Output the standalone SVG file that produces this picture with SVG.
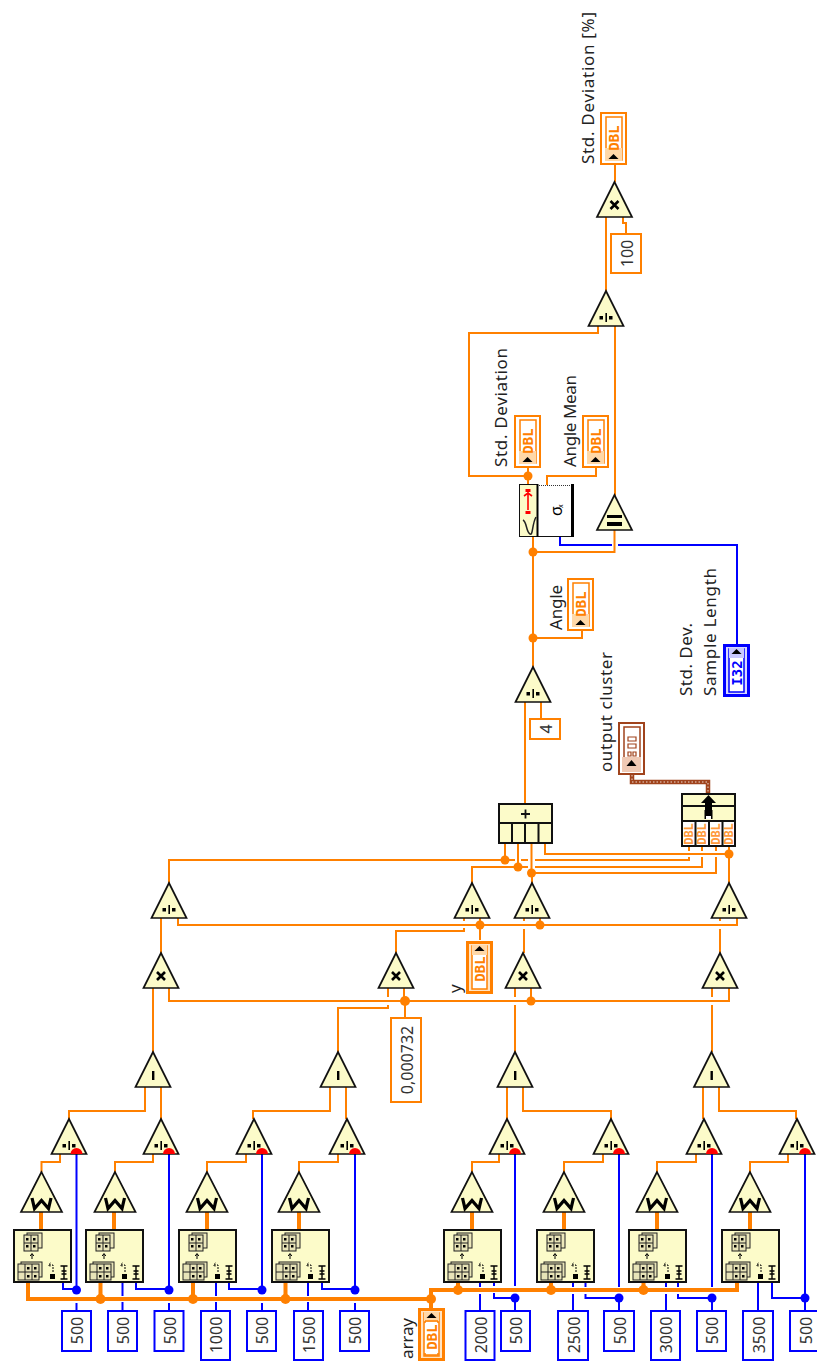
<svg xmlns="http://www.w3.org/2000/svg" width="817" height="1362" viewBox="0 0 817 1362">
<style>
.o{fill:none;stroke:#FF8000;stroke-width:2}
.th{fill:none;stroke:#FF8000;stroke-width:4}
.b{fill:none;stroke:#0000FF;stroke-width:2}
.jo{fill:#FF8000}
.jb{fill:#0000FF}
.tri{fill:#FCFBC9;stroke:#111;stroke-width:1.7;stroke-linejoin:miter}
.k{fill:#000}
.box{fill:#FCFBC9;stroke:#111;stroke-width:2}
.cb{fill:#fff;stroke:#0000FF;stroke-width:2}
.co{fill:#fff;stroke:#FF8000;stroke-width:2}
.num{font-family:"Noto Sans",sans-serif;font-size:16px;fill:#333;text-anchor:middle}
.lab{font-family:"Noto Sans",sans-serif;font-size:17px;fill:#222}
.dbl{font-family:"DejaVu Sans Mono",monospace;font-weight:bold;font-size:14px;fill:#FF8000;text-anchor:middle}
.dbs{font-family:"DejaVu Sans Mono",monospace;font-weight:bold;font-size:12px;fill:#FF9A3C;text-anchor:middle}
.i32{font-family:"DejaVu Sans Mono",monospace;font-weight:bold;font-size:14px;fill:#0000FF;text-anchor:middle}
.g{fill:#E8E4B8;stroke:#222;stroke-width:1}
</style>
<defs>
<polygon id="tr" class="tri" points="0,0 -17.5,35 17.5,35"/>
<polygon id="trw" class="tri" points="0,0 -20.5,40 20.5,40"/>
<g id="div"><use href="#tr"/><rect class="k" x="-6.5" y="25" width="3.5" height="3.5"/><rect class="k" x="-0.6" y="22" width="1.6" height="9"/><rect class="k" x="3" y="25" width="3.5" height="3.5"/></g>
<g id="mul"><use href="#tr"/><path d="M-4 19L4 27M4 19L-4 27" stroke="#000" stroke-width="2.6" fill="none"/></g>
<g id="sub"><use href="#tr"/><rect class="k" x="-1" y="19" width="2.4" height="9"/></g>
<g id="eqs"><use href="#tr"/><rect class="k" x="-7.5" y="20" width="15" height="3"/><rect class="k" x="-7.5" y="27" width="15" height="4"/></g>
<g id="wf"><use href="#trw"/><path d="M-9.500 26L-7 36.500L0 28.500L7 36.500L9.500 26" fill="none" stroke="#000" stroke-width="3.200"/></g>
<g id="grid">
<rect class="g" x="13" y="3" width="15" height="15" fill-opacity=".8"/>
<rect class="g" x="10" y="5" width="14" height="16"/>
<path d="M10 13H24M17 5V21" stroke="#222" fill="none"/>
<rect class="k" x="12" y="8" width="2.5" height="2.5"/><rect class="k" x="19" y="8" width="2.5" height="2.5"/><rect class="k" x="12" y="15" width="2.5" height="2.5"/><rect class="k" x="19" y="15" width="2.5" height="2.5"/>
<path d="M18 29V24M16.2 26L18 23.5L19.8 26" stroke="#000" fill="none"/>
<rect class="g" x="7" y="32" width="21" height="15"/>
<rect class="g" x="4" y="34" width="21" height="16"/>
<path d="M4 42H25M11 34V50M18 34V50" stroke="#222" fill="none"/>
<rect class="k" x="13" y="37" width="2.5" height="2.5"/><rect class="k" x="20" y="37" width="2.5" height="2.5"/><rect class="k" x="13" y="45" width="2.5" height="2.5"/><rect class="k" x="20" y="45" width="2.5" height="2.5"/>
<path d="M39 42V35H35M36.5 33L34.5 35L36.5 37" stroke="#000" fill="none" stroke-dasharray="2 1"/>
<rect class="k" x="36" y="44" width="5" height="5"/>
<path d="M46.5 36H53.5M46.5 49H53.5M50 36V49M47.5 41H52.5M47.5 44H52.5" stroke="#000" stroke-width="1.4" fill="none"/>
</g>
<g id="ind"><rect x="1" y="1" width="25" height="51" fill="#fff" stroke="#FF8000" stroke-width="2"/><rect x="6" y="5" width="16" height="43" fill="#fff" stroke="#FF8000" stroke-width="1.5"/><rect x="5" y="36" width="17" height="13" fill="#FFD8A8"/><polygon class="k" points="13.5,42 8.5,47 18.5,47"/><text class="dbl" transform="translate(19,26) rotate(-90)">DBL</text></g>
<g id="ctl"><rect x="1.5" y="1.5" width="24" height="50" fill="#FFE4C4" stroke="#FF8000" stroke-width="3"/><rect x="6" y="5" width="15" height="43" fill="#fff" stroke="#FF8000" stroke-width="1.5"/><rect x="6" y="4" width="15" height="10" fill="#FFD8A8"/></g>
</defs>

<g id="connectors">
<path class="o" d="M41.5 1172V1162H60V1154M115 1172V1162H153V1154M207 1172V1162H246V1154M299 1172V1162H338V1154M472 1172V1162H499V1154M564 1172V1162H603V1154M657 1172V1162H696V1154M750 1172V1162H788V1154"/>
<path class="th" d="M41 1212V1229M114 1212V1229M207 1212V1229M299 1212V1229M472 1212V1229M564 1212V1229M657 1212V1229M750 1212V1229"/>
<path class="th" d="M28 1282V1299H431V1308M100.500 1282V1299M193 1282V1299M285.500 1282V1299M431 1299V1290H737V1282M458 1282V1290M551 1282V1290M643.500 1282V1290"/>
<path class="o" d="M145 1086V1111H69V1119M161 1086V1119M330 1086V1111H253V1119M346 1086V1119M507 1086V1119M523 1086V1111H611V1119M703 1086V1119M719 1086V1111H796V1119"/>
<path class="o" d="M153 987V1052M388 987V997M388 1005V1008H338V1052M515 987V997M515 1005V1052M712 987V997M712 1005V1052"/>
<path class="o" d="M169 987V1001H729V987M404 987V1001M531 987V1001M405 1001V1017"/>
<path class="o" d="M161 917V953M178 917V925H737V917M464 917V921M464 928V931H396V953M480 917V940M524 917V921M524 929V953M540 917V925M720 917V921M720 929V953"/>
<path class="o" d="M169 883V860H515M521 860H528M535 860H689V857M689 851V847M505 843V860M518 843V867M531.500 843V873M545 843V854H729M729 847V883M472 883V867H528M535 867H702V857M702 851V847M532 883V873H716V857M716 851V847"/>
<path class="o" d="M525 803V702M541 702V718M533 667V537M533 638H582V631M533 552H614.500V496M615 496V326M598 325V333H469V476H528M528 468V485M596 468V476H547V485M606 291V215M623 215V223H626V233M615 165V182"/>
<path class="b" d="M560 537V545H612M618 545H737V644"/>
<path class="b" d="M76.500 1154V1290M76.500 1303V1310M63 1282V1289H76M122.500 1282V1296M122.500 1302V1310M169 1154V1290M169 1303V1310M136 1282V1289H169M216 1282V1296M216 1302V1310M262 1154V1290M262 1303V1310M229 1282V1289H262M308 1282V1296M308 1302V1310M355 1154V1290M355 1303V1310M322 1282V1289H355"/>
<path class="b" d="M480 1282V1287M480 1294V1310M515 1154V1286M515 1298V1310M494 1282V1286M494 1293V1298H515M573 1282V1287M573 1294V1310M619 1154V1287M619 1298V1310M585.500 1282V1287M585.500 1294V1298H619M666 1282V1287M666 1294V1310M712 1154V1287M712 1298V1310M678 1282V1287M678 1294V1298H712M758 1282V1310M805 1154V1310M772 1282V1298H805"/>
<path fill="none" stroke="#A0431C" stroke-width="4.500" d="M632 775V782H708V793"/>
<path fill="none" stroke="#fff" stroke-opacity=".8" stroke-width="1" stroke-dasharray="1.500 2" d="M632 775V782H708V793"/>
<g class="jo"><circle cx="100.500" cy="1299" r="5"/><circle cx="193" cy="1299" r="5"/><circle cx="285.500" cy="1299" r="5"/><circle cx="431" cy="1299" r="5"/><circle cx="458" cy="1290" r="5"/><circle cx="551" cy="1290" r="5"/><circle cx="643.500" cy="1290" r="5"/><circle cx="505" cy="860" r="4.500"/><circle cx="518" cy="867" r="4.500"/><circle cx="531.500" cy="873" r="4.500"/><circle cx="729" cy="854" r="4.500"/><circle cx="480" cy="925" r="4.500"/><circle cx="540" cy="925" r="4.500"/><circle cx="405" cy="1001" r="5"/><circle cx="531" cy="1001" r="4.500"/><circle cx="533" cy="638" r="4.500"/><circle cx="533" cy="552" r="4.500"/><circle cx="528" cy="476" r="4.500"/></g>
<g class="jb"><circle cx="76.500" cy="1290" r="4.500"/><circle cx="169" cy="1290" r="4.500"/><circle cx="262" cy="1290" r="4.500"/><circle cx="355" cy="1290" r="4.500"/><circle cx="515" cy="1298" r="4.500"/><circle cx="619" cy="1298" r="4.500"/><circle cx="712" cy="1298" r="4.500"/><circle cx="805" cy="1298" r="4.500"/></g>
</g>

<g id="read1" transform="translate(14,1230)"><rect class="box" width="57" height="52"/><use href="#grid"/></g>
<g id="read2" transform="translate(86,1230)"><rect class="box" width="57" height="52"/><use href="#grid"/></g>
<g id="read3" transform="translate(179,1230)"><rect class="box" width="57" height="52"/><use href="#grid"/></g>
<g id="read4" transform="translate(272,1230)"><rect class="box" width="57" height="52"/><use href="#grid"/></g>
<g id="read5" transform="translate(444,1230)"><rect class="box" width="57" height="52"/><use href="#grid"/></g>
<g id="read6" transform="translate(537,1230)"><rect class="box" width="57" height="52"/><use href="#grid"/></g>
<g id="read7" transform="translate(629,1230)"><rect class="box" width="57" height="52"/><use href="#grid"/></g>
<g id="read8" transform="translate(722,1230)"><rect class="box" width="57" height="52"/><use href="#grid"/></g>

<g id="wf1" transform="translate(41.500,1172)"><use href="#wf"/></g>
<g id="wf2" transform="translate(115,1172)"><use href="#wf"/></g>
<g id="wf3" transform="translate(207,1172)"><use href="#wf"/></g>
<g id="wf4" transform="translate(299,1172)"><use href="#wf"/></g>
<g id="wf5" transform="translate(472,1172)"><use href="#wf"/></g>
<g id="wf6" transform="translate(564,1172)"><use href="#wf"/></g>
<g id="wf7" transform="translate(657,1172)"><use href="#wf"/></g>
<g id="wf8" transform="translate(750,1172)"><use href="#wf"/></g>

<g id="d1" transform="translate(69,1119)"><use href="#div"/><path d="M1.500 35A6 6 0 0 1 13.500 35Z" fill="#F00"/></g>
<g id="d2" transform="translate(161,1119)"><use href="#div"/><path d="M2 35A6 6 0 0 1 14 35Z" fill="#F00"/></g>
<g id="d3" transform="translate(254,1119)"><use href="#div"/><path d="M2 35A6 6 0 0 1 14 35Z" fill="#F00"/></g>
<g id="d4" transform="translate(347,1119)"><use href="#div"/><path d="M2 35A6 6 0 0 1 14 35Z" fill="#F00"/></g>
<g id="d5" transform="translate(507,1119)"><use href="#div"/><path d="M2 35A6 6 0 0 1 14 35Z" fill="#F00"/></g>
<g id="d6" transform="translate(611,1119)"><use href="#div"/><path d="M2 35A6 6 0 0 1 14 35Z" fill="#F00"/></g>
<g id="d7" transform="translate(704,1119)"><use href="#div"/><path d="M2 35A6 6 0 0 1 14 35Z" fill="#F00"/></g>
<g id="d8" transform="translate(797,1119)"><use href="#div"/><path d="M2 35A6 6 0 0 1 14 35Z" fill="#F00"/></g>

<g id="s1" transform="translate(153,1052)"><use href="#sub"/></g>
<g id="s2" transform="translate(338,1052)"><use href="#sub"/></g>
<g id="s3" transform="translate(515,1052)"><use href="#sub"/></g>
<g id="s4" transform="translate(711.500,1052)"><use href="#sub"/></g>

<g id="m1" transform="translate(161,953)"><use href="#mul"/></g>
<g id="m2" transform="translate(396,953)"><use href="#mul"/></g>
<g id="m3" transform="translate(523,953)"><use href="#mul"/></g>
<g id="m4" transform="translate(720,953)"><use href="#mul"/></g>

<g id="q1" transform="translate(169,883)"><use href="#div"/></g>
<g id="q2" transform="translate(472,883)"><use href="#div"/></g>
<g id="q3" transform="translate(532,883)"><use href="#div"/></g>
<g id="q4" transform="translate(729,883)"><use href="#div"/></g>
<g id="q5" transform="translate(533,667)"><use href="#div"/></g>
<g id="q6" transform="translate(606,291)"><use href="#div"/></g>
<g id="m5" transform="translate(614.500,182)"><use href="#mul"/></g>
<g id="eq" transform="translate(614.500,495)"><use href="#eqs"/></g>

<g id="c1" transform="translate(62,1311)"><rect class="cb" width="29" height="40"/><text class="num" transform="translate(21,19.500) rotate(-90)">500</text></g>
<g id="c2" transform="translate(108,1311)"><rect class="cb" width="29" height="40"/><text class="num" transform="translate(21,19.500) rotate(-90)">500</text></g>
<g id="c3" transform="translate(154.500,1311)"><rect class="cb" width="29" height="40"/><text class="num" transform="translate(21,19.500) rotate(-90)">500</text></g>
<g id="c4" transform="translate(201,1311)"><rect class="cb" width="29" height="49"/><text class="num" transform="translate(21,24) rotate(-90)">1000</text></g>
<g id="c5" transform="translate(247,1311)"><rect class="cb" width="29" height="40"/><text class="num" transform="translate(21,19.500) rotate(-90)">500</text></g>
<g id="c6" transform="translate(294,1311)"><rect class="cb" width="29" height="49"/><text class="num" transform="translate(21,24) rotate(-90)">1500</text></g>
<g id="c7" transform="translate(340,1311)"><rect class="cb" width="29" height="40"/><text class="num" transform="translate(21,19.500) rotate(-90)">500</text></g>
<g id="c8" transform="translate(465.500,1311)"><rect class="cb" width="29" height="49"/><text class="num" transform="translate(21,24) rotate(-90)">2000</text></g>
<g id="c9" transform="translate(501,1311)"><rect class="cb" width="29" height="40"/><text class="num" transform="translate(21,19.500) rotate(-90)">500</text></g>
<g id="c10" transform="translate(558,1311)"><rect class="cb" width="30" height="49"/><text class="num" transform="translate(21.500,24) rotate(-90)">2500</text></g>
<g id="c11" transform="translate(604,1311)"><rect class="cb" width="30" height="40"/><text class="num" transform="translate(21.500,19.500) rotate(-90)">500</text></g>
<g id="c12" transform="translate(651,1311)"><rect class="cb" width="29" height="49"/><text class="num" transform="translate(21,24) rotate(-90)">3000</text></g>
<g id="c13" transform="translate(697,1311)"><rect class="cb" width="29" height="40"/><text class="num" transform="translate(21,19.500) rotate(-90)">500</text></g>
<g id="c14" transform="translate(743,1311)"><rect class="cb" width="30" height="49"/><text class="num" transform="translate(21.500,24) rotate(-90)">3500</text></g>
<g id="c15" transform="translate(790,1311)"><rect class="cb" width="30" height="40"/><text class="num" transform="translate(21.500,19.500) rotate(-90)">500</text></g>
<g id="k1" transform="translate(391,1018)"><rect class="co" width="30" height="84"/><text class="num" transform="translate(21.500,42) rotate(-90)">0,000732</text></g>
<g id="k2" transform="translate(530,719)"><rect class="co" width="30" height="20"/><text class="num" transform="translate(21.500,10) rotate(-90)">4</text></g>
<g id="k3" transform="translate(611,234)"><rect class="co" width="30" height="39"/><text class="num" transform="translate(21.500,19.500) rotate(-90)">100</text></g>

<g id="array" transform="translate(418,1308)"><use href="#ctl"/><polygon class="k" points="13.500,5 8.500,10 18.500,10"/><text class="dbl" transform="translate(19,29) rotate(-90)">DBL</text><path d="M7 13V15M20 13V15M7 13H20M7 45V47M20 45V47M7 47H20" stroke="#FF8000" stroke-width="1.500" fill="none"/><text class="lab" transform="translate(-5,51) rotate(-90)" textLength="41" lengthAdjust="spacing">array</text></g>
<g id="y" transform="translate(466,941)"><use href="#ctl"/><polygon class="k" points="13.500,5 8.500,10 18.500,10"/><text class="dbl" transform="translate(19,28) rotate(-90)">DBL</text><text class="lab" transform="translate(-5,52) rotate(-90)">y</text></g>
<g id="ang" transform="translate(567,578)"><use href="#ind"/><text class="lab" transform="translate(-5,52) rotate(-90)" textLength="45" lengthAdjust="spacing">Angle</text></g>
<g id="angm" transform="translate(582,415)"><use href="#ind"/><text class="lab" transform="translate(-6,52) rotate(-90)" textLength="92" lengthAdjust="spacing">Angle Mean</text></g>
<g id="sdv" transform="translate(514,415)"><use href="#ind"/><text class="lab" transform="translate(-7,52) rotate(-90)" textLength="119" lengthAdjust="spacing">Std. Deviation</text></g>
<g id="sdp" transform="translate(600,112)"><use href="#ind"/><text class="lab" transform="translate(-6,52) rotate(-90)" textLength="152" lengthAdjust="spacing">Std. Deviation [%]</text></g>

<g id="i32" transform="translate(723,644)"><rect x="1.500" y="1.500" width="24" height="50" fill="#D8D8FF" stroke="#0000FF" stroke-width="3"/><rect x="6" y="5" width="15" height="43" fill="#fff" stroke="#0000FF" stroke-width="1.500"/><rect x="6" y="4" width="15" height="10" fill="#C8C8FF"/><polygon class="k" points="13.500,5 8.500,10 18.500,10"/><text class="i32" transform="translate(18.500,29) rotate(-90)">I32</text><text class="lab" transform="translate(-31,52) rotate(-90)" textLength="73" lengthAdjust="spacing">Std. Dev.</text><text class="lab" transform="translate(-7,52) rotate(-90)" textLength="128" lengthAdjust="spacing">Sample Length</text></g>

<g id="cluster" transform="translate(618,722)"><rect x="1" y="1" width="25" height="51" fill="#fff" stroke="#A0431C" stroke-width="2"/><rect x="6" y="5" width="16" height="43" fill="#fff" stroke="#A0431C" stroke-width="1.500"/><rect x="4" y="35" width="19" height="15" fill="#EFC9B4"/><polygon class="k" points="13.500,38 8.500,44 18.500,44"/><path d="M10 15H18V19H10ZM10 22H18V26H10ZM10 30H13V34H10ZM15 30H18V34H15Z" fill="none" stroke="#A0431C" stroke-width="1.200"/><text class="lab" transform="translate(-6,50) rotate(-90)" textLength="120" lengthAdjust="spacing">output cluster</text></g>

<g id="sum" transform="translate(498,803)"><rect class="box" x="1" y="1" width="53" height="39"/><path d="M1 20H54M14 20V40M27 20V40M40.500 20V40" stroke="#111" stroke-width="2" fill="none"/><path d="M23 11H32M27.500 6.500V15.500" stroke="#111" stroke-width="1.800" fill="none"/></g>

<g id="bundle" transform="translate(681,793)"><rect class="box" x="1" y="1" width="53" height="52"/><path d="M1 13H54" stroke="#111" stroke-width="2" fill="none"/><rect x="1" y="28" width="53" height="25" fill="#fff"/><path d="M1 28H54M14.500 28V53M28 28V53M41.500 28V53M1 1H54V53H1Z" stroke="#111" stroke-width="2" fill="none"/><polygon class="k" points="27.500,2 20,10 24,10 24,17 31,17 31,10 35,10"/><rect class="k" x="23.500" y="17" width="8" height="9"/><rect x="25" y="23" width="5" height="3" fill="#fff"/>
<text class="dbs" transform="translate(11.500,41) rotate(-90)">DBL</text><text class="dbs" transform="translate(25,41) rotate(-90)">DBL</text><text class="dbs" transform="translate(38.500,41) rotate(-90)">DBL</text><text class="dbs" transform="translate(52,41) rotate(-90)">DBL</text></g>

<g id="stddev" transform="translate(519,484)"><rect x="18" y="1" width="36" height="52" fill="#fff"/><rect x="0.500" y="0.500" width="18" height="52" fill="#FCFBC9" stroke="#111"/><path d="M18 1.500H54" stroke="#333" stroke-dasharray="1 1"/><path d="M18 52.500H54" stroke="#111"/><path d="M18.500 0V53" stroke="#000" stroke-width="2"/><path d="M53.500 0V53" stroke="#000" stroke-width="3"/>
<path d="M9 8V26M5 12L9 9L13 12" stroke="#F00" stroke-width="1.600" fill="none"/><rect x="6.500" y="5" width="5" height="3" fill="#F00"/><rect x="6.500" y="27" width="5" height="3" fill="#F00"/>
<path d="M4 36C8 38 7 48 11 50C14 52 13 40 17 33" fill="none" stroke="#222" stroke-width="1.500"/>
<text transform="translate(43,32) rotate(-90)" font-family="Noto Sans, sans-serif" font-size="16" fill="#000">σ</text><text transform="translate(44,24) rotate(-90)" font-family="Noto Sans, sans-serif" font-size="7" fill="#000">x</text></g>
</svg>
